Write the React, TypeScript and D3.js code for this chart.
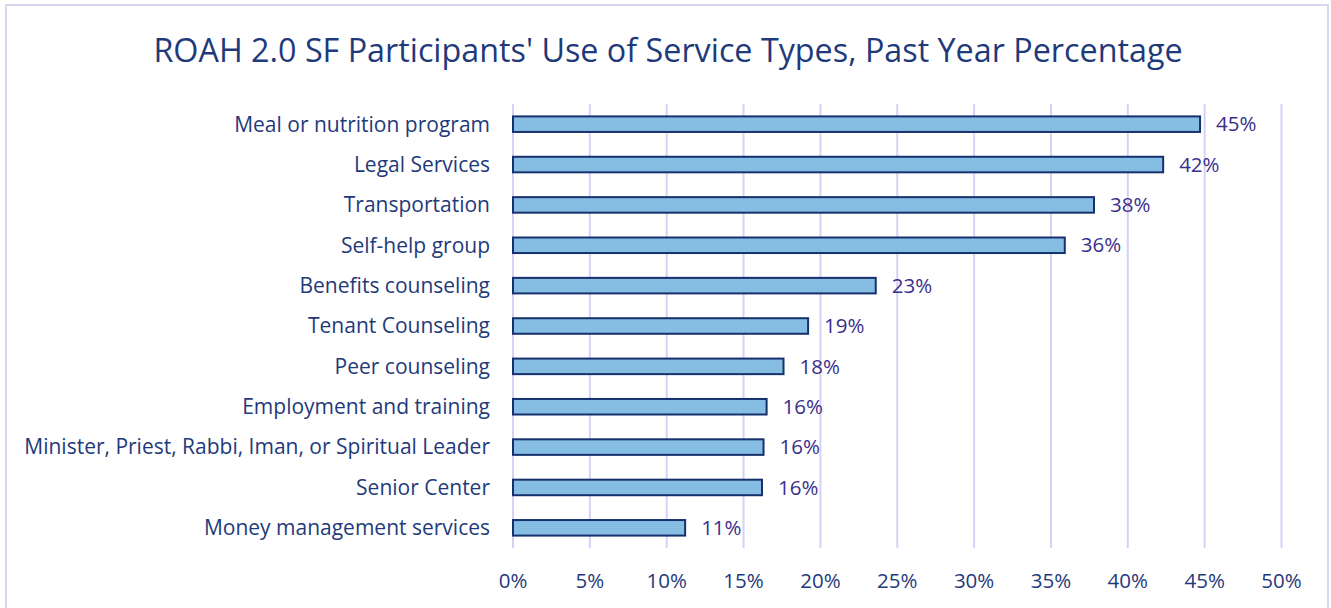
import React from "react";
import * as d3 from "d3";

const categories = [
  "Meal or nutrition program",
  "Legal Services",
  "Transportation",
  "Self-help group",
  "Benefits counseling",
  "Tenant Counseling",
  "Peer counseling",
  "Employment and training",
  "Minister, Priest, Rabbi, Iman, or Spiritual Leader",
  "Senior Center",
  "Money management services",
];
const values = [44.7, 42.3, 37.8, 35.9, 23.6, 19.2, 17.6, 16.5, 16.3, 16.2, 11.2];
const labels = ["45%", "42%", "38%", "36%", "23%", "19%", "18%", "16%", "16%", "16%", "11%"];
const xTicks = [0, 5, 10, 15, 20, 25, 30, 35, 40, 45, 50];
const title = "ROAH 2.0 SF Participants' Use of Service Types, Past Year Percentage";

export default function App() {
  const W = 1331, H = 608;
  const x = d3.scaleLinear().domain([0, 50]).range([513, 1281.5]);
  const y = d3.scaleBand<string>().domain(categories).range([104, 548]).paddingInner(0.615).paddingOuter(0.3075);
  const font = "'Open Sans', sans-serif";
  return (
    <svg width={W} height={H} style={{ position: "absolute", left: 0, top: 0 }}>
      <rect x={0} y={0} width={W} height={H} fill="#fff" />
      <rect x={6} y={5} width={1322} height={610} fill="none" stroke="#d9d6f2" strokeWidth={2} />
      <text x={668} y={62} textAnchor="middle" fontFamily={font} fontSize={32.3} fill="#1f3a7a">{title}</text>
      {xTicks.map((t) => (
        <g key={t}>
          <line x1={x(t)} x2={x(t)} y1={104} y2={548} stroke="#d6d2f5" strokeWidth={2} />
          <text x={x(t)} y={588} textAnchor="middle" fontFamily={font} fontSize={20.5} fill="#1f3a7a">{t}%</text>
        </g>
      ))}
      {categories.map((c, i) => {
        const yy = y(c)!;
        const bh = y.bandwidth();
        return (
          <g key={c}>
            <rect x={x(0)} y={yy} width={x(values[i]) - x(0)} height={bh} fill="#86bde2" stroke="#16306e" strokeWidth={2} />
            <text x={490} y={yy + bh / 2} dy="0.35em" textAnchor="end" fontFamily={font} fontSize={21} fill="#1f3a7a">{c}</text>
            <text x={x(values[i]) + 16} y={yy + bh / 2} dy="0.35em" fontFamily={font} fontSize={20.5} fill="#3b2f8c">{labels[i]}</text>
          </g>
        );
      })}
    </svg>
  );
}
